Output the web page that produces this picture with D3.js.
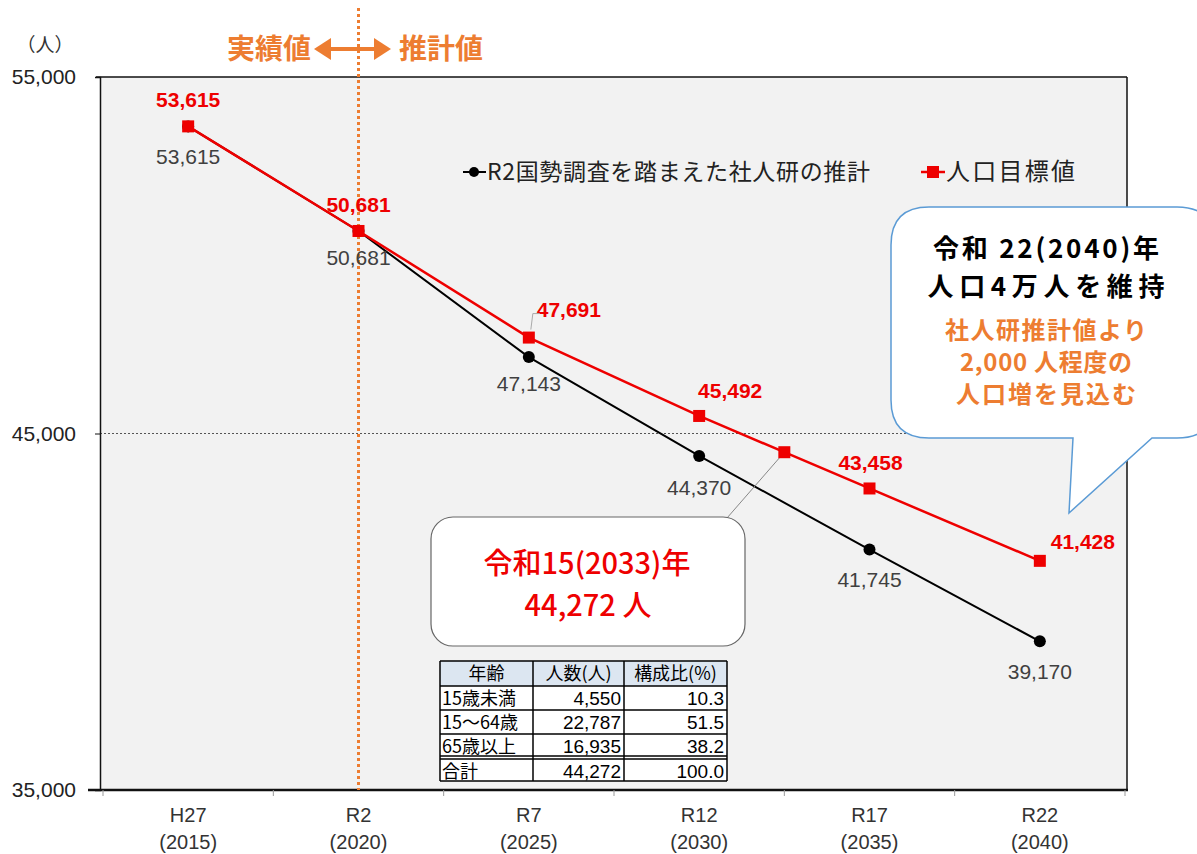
<!DOCTYPE html>
<html><head><meta charset="utf-8">
<script src="https://cdn.jsdelivr.net/npm/d3@7/dist/d3.min.js"></script>
<style>
body{margin:0;background:#fff;}
svg{display:block;}
</style></head>
<body>
<svg id="c" width="1197" height="854"></svg>
<script>
// ---- data ----
const categories = ["H27","R2","R7","R12","R17","R22"];
const yearLabels = ["(2015)","(2020)","(2025)","(2030)","(2035)","(2040)"];
const projection = [53615,50681,47143,44370,41745,39170];
const target = [53615,50681,47691,45492,43458,41428];
const target2033 = 44475; // marker midway between R12 and R17
const yTicks = [35000,45000,55000];
const legendNames = ["R2国勢調査を踏まえた社人研の推計","人口目標値"];
const tableHeader = ["年齢","人数(人)","構成比(%)"];
const tableAges = ["15歳未満","15～64歳","65歳以上","合計"];
const tableCounts = [4550,22787,16935,44272];
const tableRatios = [10.3,51.5,38.2,100.0];

// ---- layout / style ----
const JP = "'Noto Sans CJK JP','Noto Sans',sans-serif";
const NUM = "'Liberation Sans',Arial,sans-serif";
const RED = "#ee0000", ORANGE = "#ED7D31";
const svg = d3.select("#c");
const L=100, R=1127, T=77, B=790;
const x = d3.scaleBand().domain(categories).range([103,1125]);
const cx = c => x(c)+x.bandwidth()/2;
const y = d3.scaleLinear().domain([35000,55000]).range([B,T]);

// plot background
svg.append("rect").attr("x",L).attr("y",T).attr("width",R-L).attr("height",B-T).attr("fill","#f2f2f2");

// 45,000 grid dashed
svg.append("line").attr("x1",L).attr("x2",R).attr("y1",y(45000)).attr("y2",y(45000))
  .attr("stroke","#555").attr("stroke-width",1).attr("stroke-dasharray","2,2");

// borders
svg.append("line").attr("x1",R).attr("x2",R).attr("y1",T).attr("y2",B).attr("stroke","#111").attr("stroke-width",1.5);
svg.append("line").attr("x1",96).attr("x2",R).attr("y1",T).attr("y2",T).attr("stroke","#111").attr("stroke-width",1.5);

// y axis
const yAxis = d3.axisLeft(y).tickValues(yTicks).tickFormat(d3.format(",")).tickSize(5).tickPadding(19);
const gy = svg.append("g").attr("transform",`translate(${L},0)`).call(yAxis);
gy.select(".domain").attr("stroke","#111").attr("stroke-width",1.5);
gy.selectAll(".tick line").attr("stroke","#111");
gy.selectAll("text").attr("font-family",NUM).attr("font-size",21).attr("fill","#222");

// x axis
svg.append("line").attr("x1",88).attr("x2",R+1).attr("y1",B).attr("y2",B).attr("stroke","#111").attr("stroke-width",2.5);
const bounds = categories.map(c=>x(c)).concat([x(categories[categories.length-1])+x.bandwidth()]);
svg.selectAll(".xt").data(bounds).enter().append("line")
  .attr("x1",d=>d).attr("x2",d=>d).attr("y1",B).attr("y2",B+6).attr("stroke","#999");
svg.selectAll(".xl1").data(categories).enter().append("text")
  .attr("x",d=>cx(d)).attr("y",822).attr("text-anchor","middle")
  .attr("font-family",NUM).attr("font-size",20).attr("fill","#333").text(d=>d);
svg.selectAll(".xl2").data(categories).enter().append("text")
  .attr("x",d=>cx(d)).attr("y",849).attr("text-anchor","middle")
  .attr("font-family",NUM).attr("font-size",20).attr("fill","#333").text((d,i)=>yearLabels[i]);

// unit label
svg.append("text").attr("x",45).attr("y",52).attr("text-anchor","middle")
  .attr("font-family",JP).attr("font-size",19).attr("fill","#333").text("（人）");

// orange dotted divider
const xd = cx("R2");
svg.append("line").attr("x1",xd).attr("x2",xd).attr("y1",8).attr("y2",B)
  .attr("stroke",ORANGE).attr("stroke-width",3).attr("stroke-dasharray","3,3");
svg.append("text").attr("x",311).attr("y",59).attr("text-anchor","end")
  .attr("font-family",JP).attr("font-size",28).attr("font-weight","bold").attr("fill",ORANGE).text("実績値");
svg.append("text").attr("x",399).attr("y",59)
  .attr("font-family",JP).attr("font-size",28).attr("font-weight","bold").attr("fill",ORANGE).text("推計値");
// double arrow
svg.append("path").attr("d",`M318,49 L388,49`).attr("stroke",ORANGE).attr("stroke-width",4);
svg.append("path").attr("d",`M314,49 L331,38 L331,60 Z`).attr("fill",ORANGE);
svg.append("path").attr("d",`M391,49 L374,38 L374,60 Z`).attr("fill",ORANGE);

// lines
const line = d3.line().x((d,i)=>cx(categories[i])).y(d=>y(d));
svg.append("path").datum(projection).attr("d",line).attr("fill","none").attr("stroke","#000").attr("stroke-width",2);
// target line including 2033 midpoint
const tPts = target.map((v,i)=>[cx(categories[i]),y(v)]);
const midX = (cx("R12")+cx("R17"))/2;
tPts.splice(4,0,[midX,y(target2033)]);
svg.append("path").attr("d",d3.line()(tPts)).attr("fill","none").attr("stroke",RED).attr("stroke-width",2.5);

// leader from 2033 box to marker
svg.append("line").attr("x1",727).attr("y1",518).attr("x2",midX).attr("y2",y(target2033))
  .attr("stroke","#888").attr("stroke-width",1);

// projection markers
svg.selectAll(".pm").data(projection).enter().append("circle")
  .attr("cx",(d,i)=>cx(categories[i])).attr("cy",d=>y(d)).attr("r",6).attr("fill","#000");
// target markers
svg.selectAll(".tm").data(tPts).enter().append("rect")
  .attr("x",d=>d[0]-6).attr("y",d=>d[1]-6).attr("width",12).attr("height",12).attr("fill",RED);

// labels
const fmt = d3.format(",");
const projOff = [[0,31],[0,27],[0,27],[0,32],[0,30],[0,31]];
const tarOff = [[0,-26],[0,-26],[40,-28],[31,-25],[1,-25],[43,-19]];
svg.selectAll(".pl").data(projection).enter().append("text")
  .attr("x",(d,i)=>cx(categories[i])+projOff[i][0]).attr("y",(d,i)=>y(d)+projOff[i][1]+7)
  .attr("text-anchor","middle").attr("font-family",NUM).attr("font-size",21).attr("fill","#404040").text(fmt);
svg.selectAll(".tl").data(target).enter().append("text")
  .attr("x",(d,i)=>cx(categories[i])+tarOff[i][0]).attr("y",(d,i)=>y(d)+tarOff[i][1]+7)
  .attr("text-anchor","middle").attr("font-family",NUM).attr("font-size",21).attr("font-weight","bold").attr("fill",RED).text(fmt);
// small leader for 47,691
{
  const px = cx("R7"), py = y(target[2]);
  svg.append("path").attr("d",`M${px+2},${py-8} L${px+4},${py-24} L${px+11},${py-24}`)
    .attr("fill","none").attr("stroke","#aaa").attr("stroke-width",1);
}

// legend
svg.append("line").attr("x1",463).attr("x2",486).attr("y1",172).attr("y2",172).attr("stroke","#000").attr("stroke-width",2);
svg.append("circle").attr("cx",474).attr("cy",172).attr("r",5).attr("fill","#000");
svg.append("text").attr("x",487).attr("y",180).attr("textLength",383).attr("font-family",JP).attr("font-size",23).attr("fill","#222").text(legendNames[0]);
svg.append("line").attr("x1",921).attr("x2",945).attr("y1",172).attr("y2",172).attr("stroke",RED).attr("stroke-width",2.5);
svg.append("rect").attr("x",927).attr("y",166).attr("width",12).attr("height",12).attr("fill",RED);
svg.append("text").attr("x",946).attr("y",180).attr("textLength",129).attr("font-family",JP).attr("font-size",24).attr("fill","#222").text(legendNames[1]);

// speech bubble top right
{
  const x0=891,y0=207,x1=1215,y1=438,r=38;
  const d=`M${x0+r},${y0} L${x1-r},${y0} Q${x1},${y0} ${x1},${y0+r} L${x1},${y1-r} Q${x1},${y1} ${x1-r},${y1}
   L1152,${y1} L1069,513 L1073,${y1} L${x0+r},${y1} Q${x0},${y1} ${x0},${y1-r} L${x0},${y0+r} Q${x0},${y0} ${x0+r},${y0} Z`;
  svg.append("path").attr("d",d).attr("fill","#fff").attr("stroke","#5b9bd5").attr("stroke-width",1.5);
  const tc = 1046;
  svg.append("text").attr("x",tc).attr("y",258).attr("text-anchor","middle").attr("textLength",226).attr("font-family",JP)
    .attr("font-size",26).attr("font-weight","bold").attr("fill","#000").text("令和 22(2040)年");
  svg.append("text").attr("x",tc).attr("y",296).attr("text-anchor","middle").attr("textLength",237).attr("font-family",JP)
    .attr("font-size",26).attr("font-weight","bold").attr("fill","#000").text("人口4万人を維持");
  const ow = [202,172,180];
  const ot = svg.append("text").attr("text-anchor","middle").attr("font-family",JP)
      .attr("font-size",24).attr("font-weight","bold").attr("fill",ORANGE);
  ["社人研推計値より","2,000 人程度の","人口増を見込む"].forEach((t,i)=>{
    ot.append("tspan").attr("x",tc).attr("y",339+i*32).attr("textLength",ow[i]).text(t);
  });
}

// 2033 box
svg.append("rect").attr("x",431).attr("y",517).attr("width",314).attr("height",129).attr("rx",22)
  .attr("fill","#fff").attr("stroke","#666").attr("stroke-width",1.2);
const bt = svg.append("text").attr("text-anchor","middle").attr("font-family",JP)
  .attr("font-size",29).attr("font-weight",500).attr("fill",RED);
bt.append("tspan").attr("x",587).attr("y",574).text("令和15(2033)年");
bt.append("tspan").attr("x",588).attr("y",616).text("44,272 人");

// table
{
  const tx=[440,533,624,727];
  const ty=[661,686,710,734,756,759,781];
  const g = svg.append("g");
  g.append("rect").attr("x",tx[0]).attr("y",ty[0]).attr("width",tx[3]-tx[0]).attr("height",ty[1]-ty[0]).attr("fill","#dce6f1");
  g.append("rect").attr("x",tx[0]).attr("y",ty[1]).attr("width",tx[3]-tx[0]).attr("height",ty[6]-ty[1]).attr("fill","#fff");
  ty.forEach(v=>g.append("line").attr("x1",tx[0]).attr("x2",tx[3]).attr("y1",v).attr("y2",v).attr("stroke","#000").attr("stroke-width",1.5));
  tx.forEach(v=>g.append("line").attr("x1",v).attr("x2",v).attr("y1",ty[0]).attr("y2",ty[6]).attr("stroke","#000").attr("stroke-width",1.5));
  const fs=18;
  const rowTop=[ty[1],ty[2],ty[3],ty[5]];
  tableHeader.forEach((h,i)=>g.append("text").attr("x",(tx[i]+tx[i+1])/2).attr("y",ty[0]+19).attr("text-anchor","middle")
    .attr("font-family",JP).attr("font-size",fs).attr("fill","#000").text(h));
  tableAges.forEach((a,i)=>{
    const yy = rowTop[i]+19;
    g.append("text").attr("x",tx[0]+2).attr("y",yy).attr("font-family",JP).attr("font-size",fs).attr("fill","#000").text(a);
    g.append("text").attr("x",tx[2]-3).attr("y",yy).attr("text-anchor","end").attr("font-family",NUM).attr("font-size",19).attr("fill","#000").text(fmt(tableCounts[i]));
    g.append("text").attr("x",tx[3]-3).attr("y",yy).attr("text-anchor","end").attr("font-family",NUM).attr("font-size",19).attr("fill","#000").text(tableRatios[i].toFixed(1));
  });
}
</script>
</body></html>
